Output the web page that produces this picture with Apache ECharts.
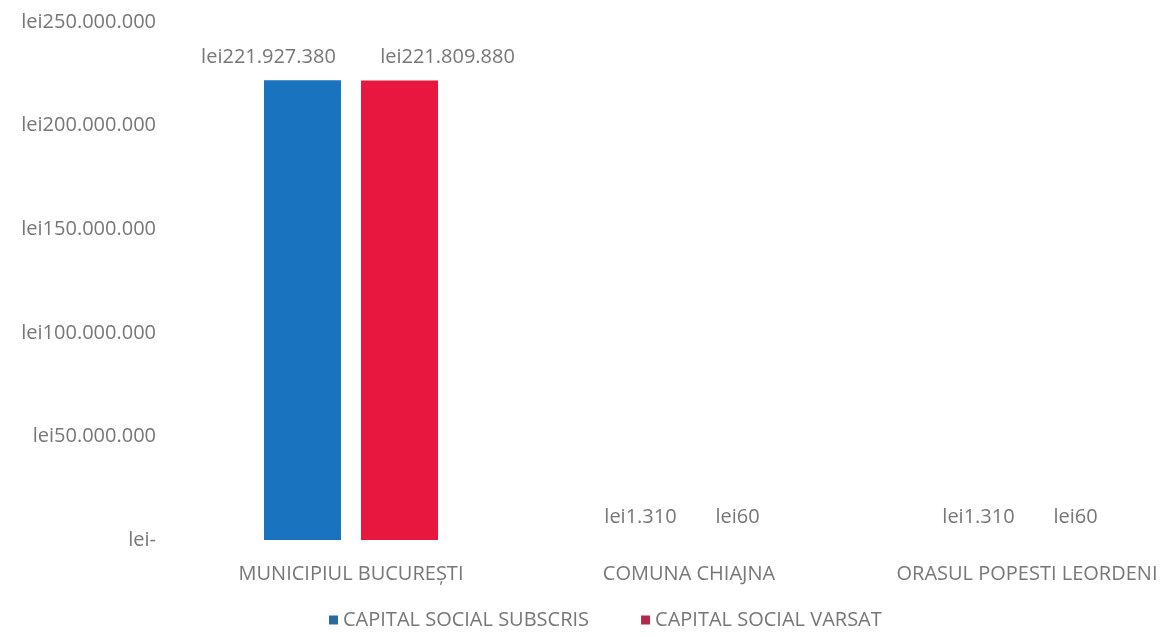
<!DOCTYPE html>
<html>
<head>
<meta charset="utf-8">
<script src="https://cdn.jsdelivr.net/npm/echarts@6/dist/echarts.min.js"></script>
<style>
html,body{margin:0;padding:0;background:#fff;}
#chart{width:1166px;height:637px;}
</style>
</head>
<body>
<div id="chart"></div>
<script>
const categories = ['MUNICIPIUL BUCUREȘTI', 'COMUNA CHIAJNA', 'ORASUL POPESTI LEORDENI'];
const seriesNames = ['CAPITAL SOCIAL SUBSCRIS', 'CAPITAL SOCIAL VARSAT'];
const subscris = [221927380, 1310, 1310];
const varsat = [221809880, 60, 60];
const yTicks = [0, 50000000, 100000000, 150000000, 200000000, 250000000];

function fmtLei(v) {
  if (v === 0) return 'lei-';
  return 'lei' + String(Math.round(v)).replace(/\B(?=(\d{3})+(?!\d))/g, '.');
}

const textColor = '#777777';
const font = '"Open Sans", sans-serif';
const fs = 20;

// label nudges (styling only) for the first category, where labels are spread apart
const labelShiftSubscris = [[-34, 0], [0, 0], [0, 0]];
const labelShiftVarsat = [[48, 0], [0, 0], [0, 0]];

function withLabels(values, shifts) {
  return values.map((v, i) => ({ value: v, label: { offset: shifts[i] } }));
}

const chart = echarts.init(document.getElementById('chart'));
chart.setOption({
  backgroundColor: '#ffffff',
  textStyle: { fontFamily: font },
  grid: { left: 182, top: 22, width: 1014, height: 518, outerBoundsMode: 'none', containLabel: false },
  legend: {
    bottom: 2,
    left: 324,
    itemWidth: 9,
    itemHeight: 9,
    itemGap: 52,
    icon: 'rect',
    textStyle: { color: textColor, fontSize: fs, fontFamily: font },
    data: [
      { name: seriesNames[0], itemStyle: { color: '#2a6a9e' } },
      { name: seriesNames[1], itemStyle: { color: '#b0284a' } }
    ]
  },
  xAxis: {
    type: 'category',
    data: categories,
    axisLine: { show: false },
    axisTick: { show: false },
    axisLabel: { color: textColor, fontSize: fs, margin: 24, fontFamily: font, interval: 0, hideOverlap: false }
  },
  yAxis: {
    type: 'value',
    min: yTicks[0],
    max: yTicks[yTicks.length - 1],
    interval: 50000000,
    splitLine: { show: false },
    axisLine: { show: false },
    axisTick: { show: false },
    axisLabel: { color: textColor, fontSize: fs, margin: 26, formatter: fmtLei, fontFamily: font }
  },
  series: [
    {
      name: seriesNames[0],
      type: 'bar',
      data: withLabels(subscris, labelShiftSubscris),
      barWidth: 77,
      barGap: '26%',
      itemStyle: { color: '#1a73be' },
      label: { show: true, position: 'top', distance: 13, color: textColor, fontSize: fs, fontFamily: font, formatter: p => fmtLei(p.value) }
    },
    {
      name: seriesNames[1],
      type: 'bar',
      data: withLabels(varsat, labelShiftVarsat),
      barWidth: 77,
      barGap: '26%',
      itemStyle: { color: '#e8173f' },
      label: { show: true, position: 'top', distance: 13, color: textColor, fontSize: fs, fontFamily: font, formatter: p => fmtLei(p.value) }
    }
  ]
});
</script>
</body>
</html>
